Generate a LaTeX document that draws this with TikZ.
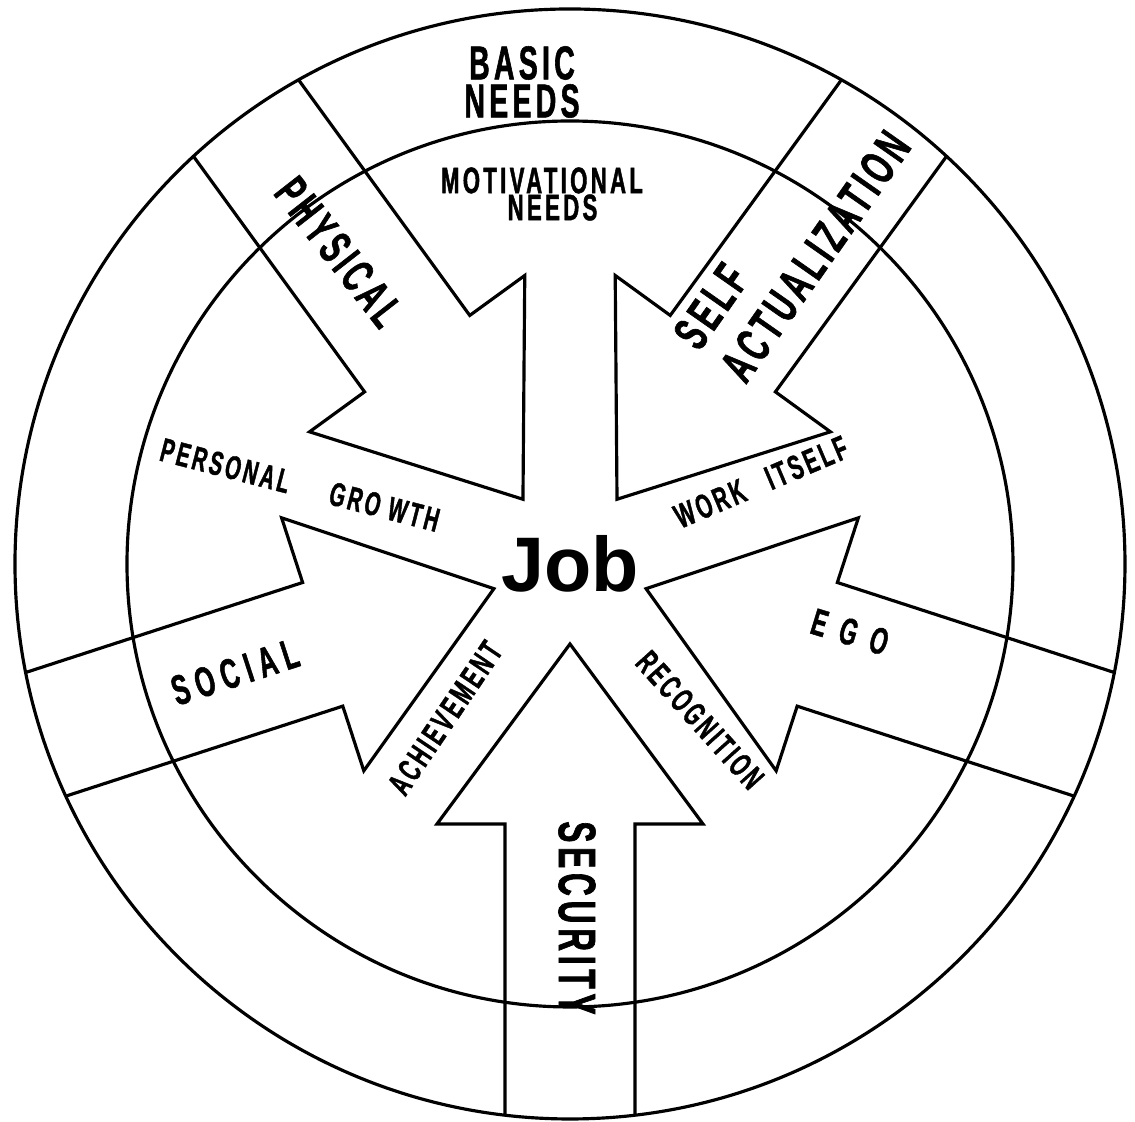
\documentclass[tikz,border=0pt]{standalone}
\usepackage{fontspec}
\setmainfont{Liberation Sans}
\newfontfamily\capsfont{Liberation Sans}[FakeStretch=0.6,LetterSpace=9,FakeBold=1.2]
\usepackage{tikz}
\usetikzlibrary{positioning}

\tikzset{
  ring/.style={line width=0.9pt, line join=miter},
  caps/.style 2 args={font=\capsfont\bfseries\fontsize{#1}{#2}\selectfont,
                      inner sep=0pt, align=center},
}

\begin{document}
\begin{tikzpicture}[x=0.01cm, y=0.01cm]
  \useasboundingbox (-570,-558) rectangle (565,564);

  % the two rings
  \draw[ring] (0,0) circle[radius=555];
  \draw[ring] (0,0) circle[radius=443];

  % five need arrows pointing at the job
  \foreach \ang in {270, 198, 126, 54, -18}
    \draw[ring, rotate=\ang] (551,65) -- (260,65) -- (260,133) -- (80,0)
      -- (260,-133) -- (260,-65) -- (551,-65);

  \node[font=\bfseries\fontsize{22}{22}\selectfont, inner sep=0pt] (job) at (0,0) {Job};

  \node[caps={13.5}{10.8}] (basic) at (-48,482) {BASIC\\NEEDS};
  \node[caps={10.5}{7.7}] (motiv) at (-28,370) {MOTIVATIONAL\\\hspace*{6pt}NEEDS};

  \node[caps={13.5}{13.5}, rotate=-52] (physical) at (-231,312) {PHYSICAL};
  \node[caps={14}{16.2}, rotate=55, align=left] (selfact) at (222,324) {SELF\\ACTUALIZATION};
  \node[caps={10.7}{10.7}, rotate=-17] (ego) at (280,-68) {E\hspace{4pt}G\hspace{4pt}O};
  \node[caps={15}{15}, rotate=-90] (security) at (7,-354) {SECURITY};
  \node[caps={12}{12}, rotate=18] (social) at (-335,-108) {S\,O\,C\,I\,A\,L};

  \node[caps={9.5}{9.5}, rotate=-14.5] (growth) at (-270,79) {PERSONAL\hspace{12pt}GRO WTH};
  \node[caps={9.7}{9.7}, rotate=23] (work) at (191,82) {WORK\hspace{7pt}ITSELF};
  \node[caps={9.5}{9.5}, rotate=-48] (recog) at (130,-156) {RECOGNITION};
  \node[caps={9.5}{9.5}, rotate=56] (achieve) at (-125,-154) {ACHIEVEMENT};
\end{tikzpicture}
\end{document}
